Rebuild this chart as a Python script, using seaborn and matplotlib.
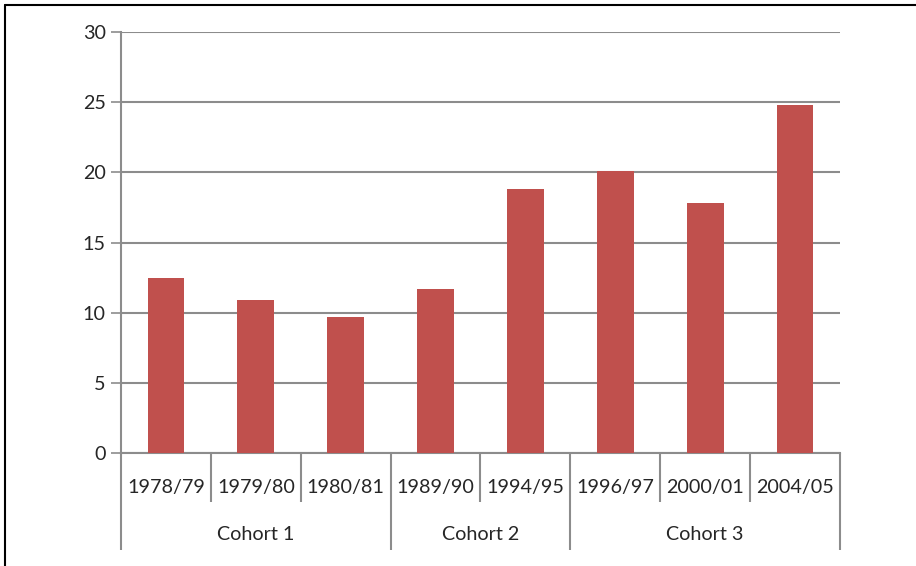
import matplotlib
matplotlib.use("Agg")
import matplotlib.pyplot as plt
from matplotlib.lines import Line2D
import seaborn as sns
import pandas as pd

years = ["1978/79", "1979/80", "1980/81", "1989/90", "1994/95", "1996/97", "2000/01", "2004/05"]
cohorts = ["Cohort 1", "Cohort 1", "Cohort 1", "Cohort 2", "Cohort 2", "Cohort 3", "Cohort 3", "Cohort 3"]
values = [12.5, 10.9, 9.7, 11.7, 18.8, 20.1, 17.8, 24.8]
y_ticks = [0, 5, 10, 15, 20, 25, 30]

df = pd.DataFrame({"year": years, "cohort": cohorts, "value": values})

sns.set_style("white")
plt.rcParams["font.family"] = ["Lato", "DejaVu Sans"]

W, H = 916, 566
fig = plt.figure(figsize=(W / 100, H / 100), dpi=100)
left, right, top, bottom = 121, 840, 32, 453
ax = fig.add_axes([left / W, 1 - bottom / H, (right - left) / W, (bottom - top) / H])

bar_color = "#C0504D"
axis_gray = "#8C8C8C"
fs = 14.2

sns.barplot(data=df, x="year", y="value", color=bar_color, width=0.41,
            saturation=1, linewidth=0, ax=ax, zorder=3)

ax.set_xlim(-0.5, len(years) - 0.5)
ax.set_ylim(0, 30)
ax.set_yticks(y_ticks)
ax.set_yticklabels([str(t) for t in y_ticks], fontsize=fs)
ax.yaxis.grid(True, color=axis_gray, linewidth=1.5, zorder=0)
ax.set_axisbelow(True)
ax.tick_params(axis="y", length=7, width=1.2, color=axis_gray, pad=4, left=True)
ax.set_xlabel("")
ax.set_ylabel("")
ax.set_xticks([])

for side in ["top", "right"]:
    ax.spines[side].set_visible(False)
for side in ["left", "bottom"]:
    ax.spines[side].set_color(axis_gray)
    ax.spines[side].set_linewidth(1.5)

# Two-level category axis: year labels on the first row, cohort groups below
trans = ax.get_xaxis_transform()
h_ax = bottom - top
row1 = -(502 - bottom) / h_ax
row2 = -(550 - bottom) / h_ax

for i, yr in enumerate(years):
    ax.text(i, -(487 - bottom) / h_ax, yr, transform=trans, ha="center",
            va="center", fontsize=fs)

boundaries = [-0.5]
groups = []
start = 0
for i in range(1, len(cohorts) + 1):
    if i == len(cohorts) or cohorts[i] != cohorts[start]:
        groups.append((cohorts[start], start, i - 1))
        boundaries.append(i - 0.5)
        start = i

for i in range(len(years) + 1):
    xpos = i - 0.5
    ybot = row2 if xpos in boundaries else row1
    ax.plot([xpos, xpos], [0, ybot], transform=trans, color=axis_gray,
            linewidth=1.5, clip_on=False, solid_capstyle="butt")

for name, a, b in groups:
    ax.text((a + b) / 2, -(535 - bottom) / h_ax, name, transform=trans,
            ha="center", va="center", fontsize=fs)

# Chart frame
fig.add_artist(Line2D([5 / W, 1], [1 - 5 / H, 1 - 5 / H], color="black", linewidth=1.5))
fig.add_artist(Line2D([5 / W, 5 / W], [0, 1 - 5 / H], color="black", linewidth=1.5))

fig.savefig("out.png", dpi=100, facecolor="white")
